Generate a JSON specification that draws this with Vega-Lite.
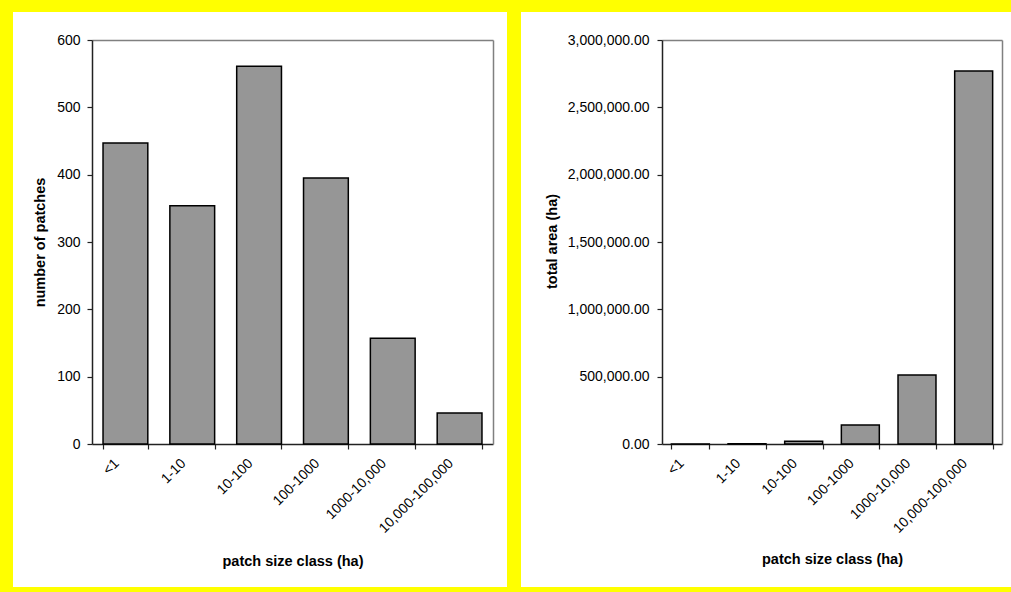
{
  "$schema": "https://vega.github.io/schema/vega-lite/v6.json",
  "background": "#FFFF00",
  "padding": {"left": 8, "top": 12, "right": 0, "bottom": 5},
  "spacing": 14,
  "bounds": "flush",
  "config": {
    "view": {"fill": "white", "stroke": null},
    "font": "Liberation Sans",
    "axis": {
      "labelFont": "Liberation Sans",
      "titleFont": "Liberation Sans",
      "labelFontSize": 14,
      "titleFontSize": 14.5,
      "labelColor": "#000000",
      "titleColor": "#000000",
      "titleFontWeight": "bold",
      "domainColor": "#222222",
      "domainWidth": 1.5,
      "tickColor": "#222222",
      "tickWidth": 1.2,
      "tickSize": 5,
      "grid": false
    }
  },
  "hconcat": [
    {
      "width": 494,
      "height": 575,
      "data": {"values": [
        {"cls": "<1", "n": 447},
        {"cls": "1-10", "n": 354},
        {"cls": "10-100", "n": 561},
        {"cls": "100-1000", "n": 395},
        {"cls": "1000-10,000", "n": 157},
        {"cls": "10,000-100,000", "n": 46}
      ]},
      "resolve": {"axis": {"x": "independent", "y": "independent"}},
      "layer": [
        {
          "mark": {"type": "bar", "fill": "#969696", "stroke": "#000000", "strokeWidth": 1.5},
          "encoding": {
            "x": {
              "field": "cls", "type": "nominal", "sort": null,
              "scale": {"range": [79, 480], "paddingInner": 0.33, "paddingOuter": 0.165},
              "axis": {
                "orient": "bottom", "offset": -143, "tickBand": "extent",
                "labelAngle": -45, "labelAlign": "right", "labelBaseline": "middle",
                "labelOffset": -9, "labelPadding": 12,
                "title": "patch size class (ha)", "titleX": 279.5, "titleY": 117,
                "titleAlign": "center", "titleBaseline": "middle"
              }
            },
            "y": {
              "field": "n", "type": "quantitative",
              "scale": {"domain": [0, 600], "nice": false, "range": [432, 28]},
              "axis": {
                "orient": "left", "offset": -79, "values": [0, 100, 200, 300, 400, 500, 600],
                "labelPadding": 7,
                "title": "number of patches", "titleX": -52, "titleY": 230,
                "titleAngle": -90, "titleAlign": "center", "titleBaseline": "middle"
              }
            }
          }
        },
        {
          "mark": {"type": "bar", "opacity": 0},
          "encoding": {
            "x": {
              "field": "cls", "type": "nominal", "sort": null,
              "axis": {"orient": "top", "offset": -28, "labels": false, "ticks": false, "title": null, "domainColor": "#808080"}
            },
            "y": {
              "field": "n", "type": "quantitative",
              "axis": {"orient": "right", "offset": -14, "labels": false, "ticks": false, "title": null, "domainColor": "#808080"}
            }
          }
        }
      ]
    },
    {
      "width": 490,
      "height": 575,
      "data": {"values": [
        {"cls": "<1", "area": 150},
        {"cls": "1-10", "area": 1500},
        {"cls": "10-100", "area": 20000},
        {"cls": "100-1000", "area": 141000},
        {"cls": "1000-10,000", "area": 512000},
        {"cls": "10,000-100,000", "area": 2770000}
      ]},
      "resolve": {"axis": {"x": "independent", "y": "independent"}},
      "layer": [
        {
          "mark": {"type": "bar", "fill": "#969696", "stroke": "#000000", "strokeWidth": 1.5},
          "encoding": {
            "x": {
              "field": "cls", "type": "nominal", "sort": null,
              "scale": {"range": [141, 481], "paddingInner": 0.33, "paddingOuter": 0.165},
              "axis": {
                "orient": "bottom", "offset": -143, "tickBand": "extent",
                "labelAngle": -45, "labelAlign": "right", "labelBaseline": "middle",
                "labelOffset": -9, "labelPadding": 12,
                "title": "patch size class (ha)", "titleX": 311, "titleY": 115,
                "titleAlign": "center", "titleBaseline": "middle"
              }
            },
            "y": {
              "field": "area", "type": "quantitative",
              "scale": {"domain": [0, 3000000], "nice": false, "range": [432, 28]},
              "axis": {
                "orient": "left", "offset": -141,
                "values": [0, 500000, 1000000, 1500000, 2000000, 2500000, 3000000],
                "format": ",.2f", "labelPadding": 8,
                "title": "total area (ha)", "titleX": -110, "titleY": 229,
                "titleAngle": -90, "titleAlign": "center", "titleBaseline": "middle"
              }
            }
          }
        },
        {
          "mark": {"type": "bar", "opacity": 0},
          "encoding": {
            "x": {
              "field": "cls", "type": "nominal", "sort": null,
              "axis": {"orient": "top", "offset": -28, "labels": false, "ticks": false, "title": null, "domainColor": "#808080"}
            },
            "y": {
              "field": "area", "type": "quantitative",
              "axis": {"orient": "right", "offset": -9, "labels": false, "ticks": false, "title": null, "domainColor": "#808080"}
            }
          }
        }
      ]
    }
  ]
}
